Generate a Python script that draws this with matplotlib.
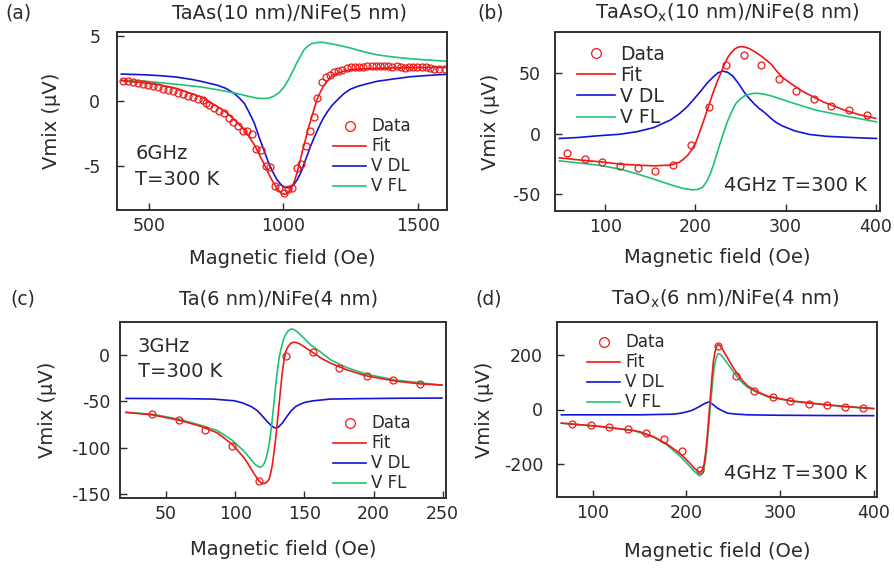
import numpy as np
import matplotlib
matplotlib.use( 'Agg' )
import matplotlib.pyplot as plt
from matplotlib.lines import Line2D
from matplotlib.patches import Rectangle

plt.rcParams['font.family'] = ['DejaVu Sans']
plt.rcParams['axes.unicode_minus'] = False
plt.rcParams['mathtext.default'] = 'regular'
for side in [ 'left', 'right', 'top', 'bottom' ] :
    plt.rcParams['axes.spines.' + side] = True

RED = '#f01818'
BLUE = '#1414d2'
GREEN = '#1fc274'
INK = '#2a2a2a'

# ---- (a) TaAs(10 nm)/NiFe(5 nm), 6 GHz ----
a_data_x = [404, 423, 442, 460, 479, 498, 516, 535, 553, 572, 591, 609, 628, 647, 665, 684, 701, 713, 725, 741,
            759, 778, 797, 814, 833, 849, 866, 882, 898, 916, 935, 951, 968, 984, 1002, 1017, 1033, 1049, 1064, 1082,
            1097, 1113, 1126, 1144, 1159, 1172, 1187, 1202, 1218, 1234, 1249, 1265, 1280, 1296, 1311, 1327, 1342, 1358, 1373, 1389,
            1404, 1420, 1435, 1451, 1466, 1482, 1497, 1513, 1528, 1545, 1559, 1578, 1598]
a_data_y = [1.54, 1.49, 1.44, 1.37, 1.29, 1.22, 1.14, 1.04, 0.94, 0.86, 0.76, 0.63, 0.51, 0.41, 0.28, 0.13, 0.05, -0.13, -0.33, -0.53,
            -0.76, -0.96, -1.29, -1.59, -1.92, -2.27, -2.30, -2.55, -3.66, -3.76, -4.95, -5.08, -6.52, -6.69, -7.02, -6.77, -6.64, -5.13, -4.82, -3.48,
            -2.27, -1.21, 0.23, 1.44, 1.82, 1.99, 2.20, 2.32, 2.40, 2.50, 2.58, 2.60, 2.62, 2.63, 2.66, 2.66, 2.68, 2.68, 2.66, 2.66,
            2.63, 2.66, 2.58, 2.53, 2.56, 2.58, 2.58, 2.56, 2.58, 2.53, 2.46, 2.43, 2.46]
a_fit_x = [398, 479, 541, 603, 665, 695, 727, 756, 789, 818, 855, 873, 892, 910, 929, 942, 959, 972, 984, 993,
           1002, 1010, 1017, 1025, 1033, 1043, 1052, 1061, 1070, 1080, 1089, 1098, 1107, 1116, 1126, 1138, 1150, 1160, 1168, 1178,
           1187, 1200, 1225, 1249, 1299, 1410, 1500, 1603]
a_fit_y = [1.54, 1.39, 1.22, 0.96, 0.51, 0.30, -0.10, -0.45, -0.90, -1.46, -2.22, -2.78, -3.36, -4.10, -4.87, -5.45, -6.14, -6.55, -6.89, -7.08,
           -7.15, -7.12, -7.00, -6.80, -6.52, -6.00, -5.38, -4.65, -3.86, -3.10, -2.35, -1.70, -1.09, -0.45, 0.18, 0.72, 1.19, 1.45, 1.65, 1.85,
           1.99, 2.12, 2.27, 2.38, 2.45, 2.53, 2.55, 2.56]
a_dl_x = [398, 479, 541, 603, 665, 695, 756, 787, 818, 836, 855, 873, 892, 910, 929, 944, 959, 975, 990, 1003,
          1015, 1027, 1039, 1052, 1064, 1076, 1089, 1101, 1113, 1126, 1138, 1150, 1163, 1180, 1199, 1224, 1249, 1274, 1299, 1348,
          1410, 1472, 1540, 1603]
a_dl_y = [2.05, 2.00, 1.93, 1.82, 1.62, 1.49, 1.19, 0.95, 0.56, 0.22, -0.20, -0.90, -1.72, -2.80, -3.86, -4.70, -5.38, -6.00, -6.39, -6.60,
          -6.64, -6.60, -6.39, -6.00, -5.50, -4.85, -4.12, -3.45, -2.85, -2.25, -1.72, -1.25, -0.83, -0.35, 0.05, 0.55, 0.90, 1.10, 1.25, 1.50,
          1.68, 1.85, 1.95, 2.03]
a_fl_x = [398, 479, 603, 695, 756, 818, 880, 905, 929, 948, 966, 985, 1002, 1018, 1033, 1048, 1064, 1076, 1089, 1105,
          1126, 1145, 1163, 1187, 1212, 1249, 1299, 1348, 1410, 1472, 1540, 1603]
a_fl_y = [1.59, 1.52, 1.27, 1.06, 0.85, 0.61, 0.30, 0.20, 0.18, 0.22, 0.38, 0.65, 1.06, 1.60, 2.20, 2.85, 3.46, 3.90, 4.17, 4.38,
          4.47, 4.48, 4.42, 4.33, 4.22, 4.04, 3.75, 3.52, 3.35, 3.22, 3.12, 3.04]

# ---- (b) TaAsOx(10 nm)/NiFe(8 nm), 4 GHz ----
b_data_x = [57.1, 76.9, 96.6, 116, 135.8, 155.5, 175.3, 195, 214.8, 234.2, 253.9, 273, 293, 312, 331.5, 350.8, 370.2, 390]
b_data_y = [-16.2, -20.6, -23.6, -26.6, -28.6, -30.5, -25.8, -9.6, 22.3, 57.1, 64.8, 56.6, 45.1, 35.4, 28.6, 23.1, 19.5, 15.9]
b_fit_x = [48.9, 73.2, 96, 116.5, 135, 153.8, 172.4, 181.7, 186, 191, 195.7, 200.4, 205, 209.7, 214.4, 219, 223.6, 228.3, 232, 235.8,
           239.5, 243.2, 247, 250.7, 255, 260, 266, 273, 278.5, 284.2, 290, 296.8, 307, 319.2, 341.5, 363.9, 381, 400]
b_fit_y = [-19.8, -21.7, -23.2, -25.0, -25.8, -26.4, -25.8, -23.6, -21.3, -18.1, -13.2, -7.1, 2.2, 12.1, 22.5, 32.7, 42.0, 50.5, 57.2, 62.9,
           67.0, 69.8, 71.5, 72.0, 71.7, 70.3, 67.8, 64.3, 61.0, 57.4, 52.0, 46.5, 41.0, 35.0, 26.5, 20.0, 16.0, 12.8]
b_dl_x = [48.9, 70, 91.8, 116.5, 135, 153.8, 172.4, 182, 191, 198.5, 206, 212.5, 219, 224.6, 230.2, 235.8, 241.4, 247.9, 254.4, 260,
          265.6, 271, 276.8, 284.2, 290, 296.8, 310, 326.6, 345, 363.9, 382, 401]
b_dl_y = [-3.8, -3.0, -1.6, -0.3, 1.8, 5.2, 11.5, 16.5, 22.5, 28.8, 35.4, 41.5, 46.4, 50.2, 51.9, 50.8, 47.8, 41.5, 34.1, 29.0,
          24.5, 20.8, 17.6, 12.6, 9.2, 6.5, 2.5, -0.5, -2.0, -2.7, -3.3, -3.8]
b_fl_x = [48.9, 70, 91.8, 116.5, 135, 153.8, 176.1, 186, 196.6, 202, 207.8, 212.5, 217.1, 221.8, 226.5, 231, 235.8, 240.5, 245.1, 249.8,
          254.4, 260, 265.6, 271, 276.8, 284.2, 294, 304.2, 334.1, 371.3, 401]
b_fl_y = [-22.3, -24.0, -25.8, -29.1, -33.0, -37.4, -42.9, -45.0, -46.2, -46.0, -44.2, -39.5, -31.9, -21.5, -9.9, 0.5, 10.7, 18.8, 25.3, 28.8,
          31.3, 32.8, 33.5, 33.3, 32.7, 31.3, 29.0, 26.4, 19.5, 14.0, 9.9]

# ---- (c) Ta(6 nm)/NiFe(4 nm), 3 GHz ----
c_data_x = [39.6, 59.2, 78.4, 97.7, 117.5, 136.7, 156, 175.3, 195, 214.3, 233.6]
c_data_y = [-63.7, -70.5, -80.6, -98.6, -136.3, -0.7, 3.6, -13.7, -22.3, -27.3, -30.9]
c_fit_x = [21.1, 40.4, 59.6, 75.1, 87.1, 98, 106.4, 109.4, 112.4, 115, 117.2, 119, 120.8, 122.6, 124.5, 125.7, 126.9, 128.1, 129.3, 130.5,
           131.7, 132.9, 134.1, 135.3, 136.5, 138.3, 140.1, 141.9, 143.7, 146.6, 149.6, 153, 156.9, 162.5, 168.9, 181, 194.6, 216.3, 233.6, 249.5]
c_fit_y = [-61.9, -64.7, -70.5, -77.0, -84.2, -96.8, -111.2, -118.0, -125.5, -131.5, -136.3, -138.5, -139.2, -137.8, -134.5, -127.5, -118.3, -104.5, -89.6, -71.5,
           -53.6, -35.5, -17.6, -5.5, 4.0, 9.5, 12.9, 14.0, 14.0, 12.3, 9.4, 6.0, 2.2, -3.5, -8.6, -16.0, -22.3, -28.1, -31.0, -32.4]
c_dl_x = [21.1, 60, 83.7, 99.2, 105, 111.3, 115.8, 119.8, 122.8, 125.8, 127.6, 129.3, 131, 134.1, 137, 140.1, 143.5, 147.2, 151, 156.9,
          168.9, 192.2, 220, 249.5]
c_dl_y = [-46.8, -47.0, -47.5, -49.3, -51.5, -55.4, -59.8, -66.2, -71.3, -75.9, -78.0, -78.8, -78.2, -73.4, -67.2, -60.8, -55.8, -52.9, -50.8, -49.3,
          -47.5, -47.0, -46.6, -46.4]
c_fl_x = [21.1, 40.4, 59.6, 75.1, 87.1, 98, 106.4, 112.4, 114.2, 116, 117.2, 118.4, 119.8, 121.3, 122.9, 124.5, 125.7, 126.9, 128.1, 129.3,
          130.5, 131.7, 133.2, 134.8, 136.5, 138.2, 139.7, 141.3, 143.6, 146.1, 150, 154.5, 160, 168.9, 180, 194.6, 216.3, 249.5]
c_fl_y = [-61.9, -64.0, -69.4, -75.9, -81.7, -92.4, -104.0, -114.7, -118.0, -120.1, -121.0, -121.2, -119.8, -116.5, -108.5, -96.8, -83.5, -68.0, -50.5, -32.0,
          -17.0, -3.2, 7.5, 16.5, 22.5, 26.3, 28.0, 28.4, 26.8, 23.7, 18.0, 11.2, 5.5, -5.0, -13.0, -20.5, -27.0, -32.4]

# ---- (d) TaOx(6 nm)/NiFe(4 nm), 4 GHz ----
d_data_x = [78.5, 98.2, 117.9, 137.3, 157, 176, 195.3, 214.7, 234, 253.4, 272.8, 292.1, 311.1, 330.5, 350.2, 369.2, 388.5]
d_data_y = [-53.3, -57.0, -64.2, -72.7, -84.8, -107.9, -152.7, -220.6, 230.3, 122.4, 67.9, 44.8, 30.3, 20.6, 15.8, 10.9, 4.8]
d_fit_x = [66.7, 107.9, 143.7, 150.9, 165.2, 179.6, 194, 204.7, 208.5, 211.9, 213.6, 215.4, 217.2, 219, 220.8, 222.6, 224, 225.4, 227.2, 229,
           230.8, 232.6, 233.9, 235.1, 236.9, 238.7, 242.3, 245.9, 250.4, 254.8, 260, 265.6, 275, 287.1, 312.2, 340.9, 369.5, 400]
d_fit_y = [-49.7, -61.8, -76.5, -81.5, -99.4, -126.1, -162.4, -198.8, -214.0, -223.0, -227.5, -228.0, -220.0, -198.8, -155.0, -89.7, -30.0, 31.5, 110.0, 177.0,
           212.0, 231.5, 236.0, 235.2, 229.0, 219.4, 198.0, 177.0, 151.0, 128.5, 105.0, 86.1, 66.0, 48.5, 31.5, 20.6, 10.9, 3.6]
d_dl_x = [66.7, 120, 150.9, 186.7, 195, 204.7, 210, 215.4, 220, 224.4, 228.8, 233.3, 238.7, 244.1, 252, 265.6, 300, 350, 400]
d_dl_y = [-19.4, -19.4, -19.4, -17.0, -13.0, -4.8, 3.5, 13.3, 22.5, 27.9, 17.5, 4.8, -5.0, -13.3, -16.5, -19.4, -21.0, -22.0, -22.5]
d_fl_x = [66.7, 107.9, 143.7, 165.2, 179.6, 194, 204.7, 208.5, 211.9, 213.3, 214.7, 216.8, 219, 220.8, 222.6, 224.4, 226.2, 228, 229.7, 231.8,
          234, 236.3, 238.7, 242.3, 245.9, 250.4, 254.8, 260, 265.6, 275, 287.1, 312.2, 340.9, 369.5, 400]
d_fl_y = [-49.7, -61.8, -77.0, -100.5, -129.7, -172.0, -210.9, -225.0, -235.2, -240.0, -241.2, -233.0, -217.0, -175.0, -113.9, -40.0, 31.5, 95.0, 152.7, 186.0,
          203.6, 201.0, 191.5, 176.0, 158.8, 137.0, 116.4, 97.0, 80.0, 63.0, 46.0, 30.3, 19.4, 10.3, 3.0]

panels = [
    dict( tag = '(a)', title = 'TaAs(10 nm)/NiFe(5 nm)',
          data = ( a_data_x, a_data_y ), fit = ( a_fit_x, a_fit_y ), dl = ( a_dl_x, a_dl_y ), fl = ( a_fl_x, a_fl_y ),
          rect = [ 117, 32, 447, 210 ], xlim = ( 382, 1607 ), ylim = ( -8.35, 5.27 ),
          xticks = [ 500, 1000, 1500 ], yticks = [ -5, 0, 5 ], ypad = 12,
          title_xy = ( 290, 13 ), tag_xy = ( 5, 13 ),
          leg_xy = ( 0.655, 0.52 ), leg_size = 12,
          notes = [ ( '6GHz', 0.055, 0.32, 'left' ), ( 'T=300 K', 0.055, 0.17, 'left' ) ],
          xlab = -0.27, ylab = -0.197 ),
    dict( tag = '(b)', title = 'TaAsO$_x$(10 nm)/NiFe(8 nm)',
          data = ( b_data_x, b_data_y ), fit = ( b_fit_x, b_fit_y ), dl = ( b_dl_x, b_dl_y ), fl = ( b_fl_x, b_fl_y ),
          rect = [ 555, 32, 880, 211 ], xlim = ( 44.1, 404.9 ), ylim = ( -63.7, 84.1 ),
          xticks = [ 100, 200, 300, 400 ], yticks = [ -50, 0, 50 ], ypad = 10.5,
          title_xy = ( 727, 13 ), tag_xy = ( 477, 13 ),
          leg_xy = ( 0.068, 0.93 ), leg_size = 13.5,
          notes = [ ( '4GHz T=300 K', 0.96, 0.145, 'right' ) ],
          xlab = -0.257, ylab = -0.2 ),
    dict( tag = '(c)', title = 'Ta(6 nm)/NiFe(4 nm)',
          data = ( c_data_x, c_data_y ), fit = ( c_fit_x, c_fit_y ), dl = ( c_dl_x, c_dl_y ), fl = ( c_fl_x, c_fl_y ),
          rect = [ 120, 322, 446, 498 ], xlim = ( 16.7, 252.4 ), ylim = ( -154.7, 36 ),
          xticks = [ 50, 100, 150, 200, 250 ], yticks = [ -150, -100, -50, 0 ], ypad = 7,
          title_xy = ( 279, 299 ), tag_xy = ( 10, 299 ),
          leg_xy = ( 0.653, 0.475 ), leg_size = 12,
          notes = [ ( '3GHz', 0.055, 0.858, 'left' ), ( 'T=300 K', 0.055, 0.716, 'left' ) ],
          xlab = -0.295, ylab = -0.221 ),
    dict( tag = '(d)', title = 'TaO$_x$(6 nm)/NiFe(4 nm)',
          data = ( d_data_x, d_data_y ), fit = ( d_fit_x, d_fit_y ), dl = ( d_dl_x, d_dl_y ), fl = ( d_fl_x, d_fl_y ),
          rect = [ 557, 322, 877, 497 ], xlim = ( 62, 403.6 ), ylim = ( -318.8, 318.8 ),
          xticks = [ 100, 200, 300, 400 ], yticks = [ -200, 0, 200 ], ypad = 10,
          title_xy = ( 725, 299 ), tag_xy = ( 475, 299 ),
          leg_xy = ( 0.094, 0.935 ), leg_size = 12,
          notes = [ ( '4GHz T=300 K', 0.969, 0.137, 'right' ) ],
          xlab = -0.309, ylab = -0.225 ),
]

W, H = 894, 569
fig = plt.figure( figsize = ( W / 100, H / 100 ), dpi = 100 )

for p in panels :
    x0, y0, x1, y1 = p['rect']
    ax = fig.add_axes( [ x0 / W, 1 - y1 / H, ( x1 - x0 ) / W, ( y1 - y0 ) / H ] )

    ax.plot( *p['fit'], color = RED, lw = 1.2, zorder = 3 )
    ax.plot( *p['dl'], color = BLUE, lw = 1.2, zorder = 2 )
    ax.plot( *p['fl'], color = GREEN, lw = 1.2, zorder = 2 )
    ax.plot( *p['data'], ls = 'none', marker = 'o', ms = 5, mfc = 'none', mec = RED, mew = 0.9, zorder = 4 )

    ax.set_xlim( p['xlim'] )
    ax.set_ylim( p['ylim'] )
    ax.set_xticks( p['xticks'] )
    ax.set_yticks( p['yticks'] )
    ax.tick_params( direction = 'in', length = 5, width = 1, colors = INK, labelsize = 12.5,
                    top = False, right = False )
    ax.tick_params( axis = 'x', pad = 5 )
    ax.tick_params( axis = 'y', pad = p['ypad'] )
    for s in ax.spines.values() :
        s.set_visible( True )
        s.set_color( INK )
        s.set_linewidth( 1.1 )
    # full box around the plot area
    ax.add_patch( Rectangle( ( 0, 0 ), 1, 1, transform = ax.transAxes, fill = False,
                             edgecolor = INK, linewidth = 1.1, clip_on = False, zorder = 5 ) )

    ax.set_xlabel( 'Magnetic field (Oe)', fontsize = 14, color = INK )
    ax.set_ylabel( 'Vmix (µV)', fontsize = 14, color = INK )
    ax.xaxis.set_label_coords( 0.5, p['xlab'] )
    ax.yaxis.set_label_coords( p['ylab'], 0.5 )
    ax.xaxis.label.set_va( 'center' )
    ax.yaxis.label.set_va( 'center' )

    for txt, tx, ty, ha in p['notes'] :
        ax.text( tx, ty, txt, transform = ax.transAxes, ha = ha, va = 'center', fontsize = 14, color = INK )

    handles = [ Line2D( [], [], ls = 'none', marker = 'o', ms = 5, mfc = 'none', mec = RED, mew = 0.9 ),
                Line2D( [], [], color = RED, lw = 1.2 ),
                Line2D( [], [], color = BLUE, lw = 1.2 ),
                Line2D( [], [], color = GREEN, lw = 1.2 ) ]
    leg = ax.legend( handles, [ 'Data', 'Fit', 'V DL', 'V FL' ], loc = 'upper left',
                     bbox_to_anchor = p['leg_xy'], frameon = False, fontsize = p['leg_size'],
                     borderpad = 0, borderaxespad = 0, handlelength = 2.0, handletextpad = 0.3,
                     labelspacing = 0.12, markerscale = 1.4 )
    for t in leg.get_texts() :
        t.set_color( INK )

    tx, ty = p['title_xy']
    fig.text( tx / W, 1 - ty / H, p['title'], ha = 'center', va = 'center', fontsize = 14, color = INK )
    lx, ly = p['tag_xy']
    fig.text( lx / W, 1 - ly / H, p['tag'], ha = 'left', va = 'center', fontsize = 13.5, color = INK )

fig.savefig( 'out.png', dpi = 100 )
